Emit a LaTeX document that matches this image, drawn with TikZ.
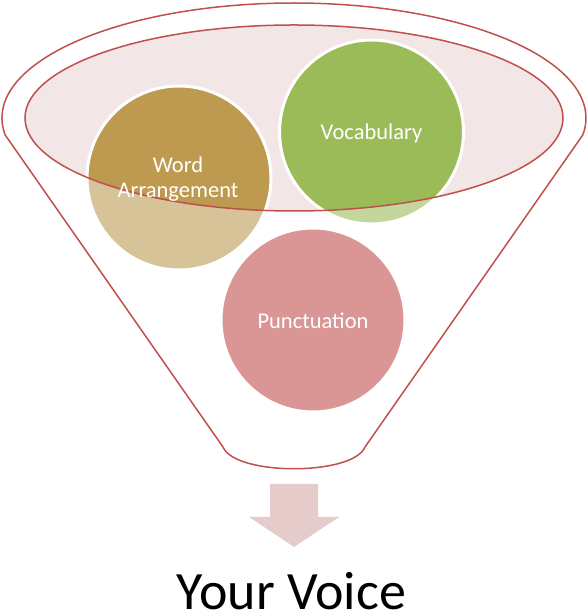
\documentclass[tikz,border=0pt]{standalone}
\usepackage{fontspec}
\setmainfont{Carlito}
\definecolor{funred}{HTML}{C0504D}
\definecolor{ellfill}{HTML}{F2E6E6}
\definecolor{golddark}{HTML}{BE9A50}
\definecolor{goldlight}{HTML}{D7C398}
\definecolor{greendark}{HTML}{9BBB59}
\definecolor{greenlight}{HTML}{C3D69B}
\definecolor{pinkc}{HTML}{D99694}
\definecolor{arrowc}{HTML}{E6CBCB}
\begin{document}
\begin{tikzpicture}[x=1pt,y=1pt,
  redline/.style={draw=funred,line width=1.5pt},
  bubble/.style={circle,minimum size=184pt,inner sep=0pt},
  bubtext/.style={text=white,font=\fontsize{22.5}{25}\selectfont,align=center}]
\useasboundingbox (0,0) rectangle (588,615);
% funnel outline
\draw[redline,fill=white] (5.2,480) arc[start angle=188.5,end angle=-8.5,x radius=292,y radius=115]
  -- (365,168) .. controls (353,139) and (235,139) .. (223,168) -- cycle;
% inner ellipse fill
\fill[ellfill] (294,497) ellipse[x radius=269,y radius=93];
% circles, light colours
\node[bubble,fill=goldlight] (word) at (179,437) {};
\node[bubble,fill=greenlight] (vocab) at (371.5,483) {};
\node[bubble,fill=pinkc] (punct) at (313,295) {};
% darker parts inside the ellipse
\begin{scope}
\clip (294,497) ellipse[x radius=269,y radius=93];
\fill[golddark] (word.center) circle[radius=92];
\fill[greendark] (vocab.center) circle[radius=92];
\end{scope}
% white rims
\draw[white,line width=3pt] (word.center) circle[radius=92];
\draw[white,line width=3pt] (vocab.center) circle[radius=92];
\draw[white,line width=3pt] (punct.center) circle[radius=92];
% ellipse outline
\draw[redline] (294,497) ellipse[x radius=269,y radius=93];
% texts
\node[bubtext] (wordt) at (178,436) {Word\\Arrangement};
\node[bubtext] (vocabt) at (371.5,481) {Vocabulary};
\node[bubtext] (punctt) at (313,294) {Punctuation};
% arrow
\fill[arrowc] (270,131) -- (318,131) -- (318,98) -- (339,98) -- (294,68) -- (249,98) -- (270,98) -- cycle;
% output text
\node[anchor=base,font=\fontsize{54}{60}\selectfont] (voice) at (291.5,5.5) {Your Voice};
\end{tikzpicture}
\end{document}
